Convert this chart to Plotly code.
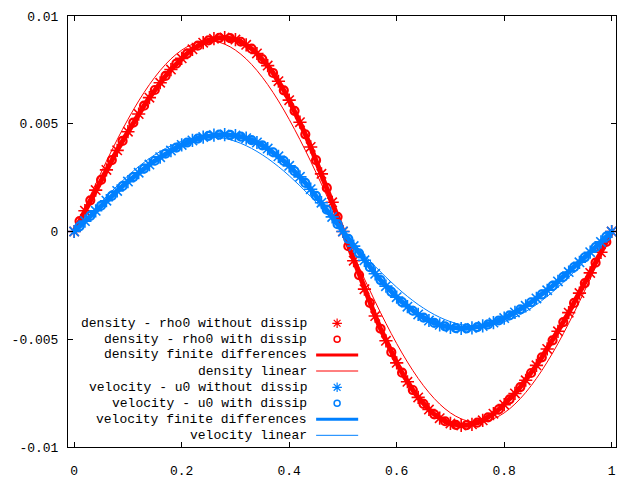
import numpy as np
import plotly.graph_objects as go

SCALE = 1e-3  # values below are given in units of 1e-3

# sampling grids
x_even = [0.00, 0.02, 0.04, 0.06, 0.08, 0.10, 0.12, 0.14, 0.16, 0.18,
          0.20, 0.22, 0.24, 0.26, 0.28, 0.30, 0.32, 0.34, 0.36, 0.38,
          0.40, 0.42, 0.44, 0.46, 0.48, 0.50, 0.52, 0.54, 0.56, 0.58,
          0.60, 0.62, 0.64, 0.66, 0.68, 0.70, 0.72, 0.74, 0.76, 0.78,
          0.80, 0.82, 0.84, 0.86, 0.88, 0.90, 0.92, 0.94, 0.96, 0.98, 1.00]
x_odd = [0.01, 0.03, 0.05, 0.07, 0.09, 0.11, 0.13, 0.15, 0.17, 0.19,
         0.21, 0.23, 0.25, 0.27, 0.29, 0.31, 0.33, 0.35, 0.37, 0.39,
         0.41, 0.43, 0.45, 0.47, 0.49, 0.51, 0.53, 0.55, 0.57, 0.59,
         0.61, 0.63, 0.65, 0.67, 0.69, 0.71, 0.73, 0.75, 0.77, 0.79,
         0.81, 0.83, 0.85, 0.87, 0.89, 0.91, 0.93, 0.95, 0.97, 0.99]

# density - rho0 (x 1e-3)
rho_without_dissip = [0, 0.966, 1.921, 2.858, 3.765, 4.632, 5.451, 6.212, 6.902, 7.514,
                      8.034, 8.455, 8.762, 8.947, 8.999, 8.907, 8.663, 8.261, 7.698, 6.973,
                      6.094, 5.072, 3.924, 2.675, 1.355, 0,
                      -1.355, -2.675, -3.924, -5.072, -6.094, -6.973, -7.698, -8.261, -8.663, -8.907,
                      -8.999, -8.947, -8.762, -8.455, -8.034, -7.514, -6.902, -6.212, -5.451, -4.632,
                      -3.765, -2.858, -1.921, -0.966, 0]
rho_with_dissip = [0.483, 1.445, 2.392, 3.315, 4.204, 5.049, 5.839, 6.566, 7.219, 7.786,
                   8.258, 8.624, 8.871, 8.990, 8.971, 8.805, 8.483, 8.000, 7.356, 6.553,
                   5.600, 4.512, 3.310, 2.022, 0.680,
                   -0.680, -2.022, -3.310, -4.512, -5.600, -6.553, -7.356, -8.000, -8.483, -8.805,
                   -8.971, -8.990, -8.871, -8.624, -8.258, -7.786, -7.219, -6.566, -5.839, -5.049,
                   -4.204, -3.315, -2.392, -1.445, -0.483]
rho_linear = [0, 1.109, 2.201, 3.258, 4.263, 5.202, 6.058, 6.819, 7.472, 8.008,
              8.417, 8.693, 8.833, 8.833, 8.693, 8.417, 8.008, 7.472, 6.819, 6.058,
              5.202, 4.263, 3.258, 2.201, 1.109, 0,
              -1.109, -2.201, -3.258, -4.263, -5.202, -6.058, -6.819, -7.472, -8.008, -8.417,
              -8.693, -8.833, -8.833, -8.693, -8.417, -8.008, -7.472, -6.819, -6.058, -5.202,
              -4.263, -3.258, -2.201, -1.109, 0]

# velocity - u0 (x 1e-3)
u_without_dissip = [0, 0.483, 0.960, 1.429, 1.882, 2.316, 2.726, 3.106, 3.451, 3.757,
                    4.017, 4.227, 4.381, 4.473, 4.500, 4.454, 4.332, 4.131, 3.849, 3.487,
                    3.047, 2.536, 1.962, 1.337, 0.678, 0,
                    -0.678, -1.337, -1.962, -2.536, -3.047, -3.487, -3.849, -4.131, -4.332, -4.454,
                    -4.500, -4.473, -4.381, -4.227, -4.017, -3.757, -3.451, -3.106, -2.726, -2.316,
                    -1.882, -1.429, -0.960, -0.483, 0]
u_with_dissip = [0.242, 0.723, 1.196, 1.657, 2.102, 2.525, 2.920, 3.283, 3.609, 3.893,
                 4.129, 4.312, 4.436, 4.495, 4.486, 4.402, 4.241, 4.000, 3.678, 3.276,
                 2.800, 2.256, 1.655, 1.011, 0.340,
                 -0.340, -1.011, -1.655, -2.256, -2.800, -3.276, -3.678, -4.000, -4.241, -4.402,
                 -4.486, -4.495, -4.436, -4.312, -4.129, -3.893, -3.609, -3.283, -2.920, -2.525,
                 -2.102, -1.657, -1.196, -0.723, -0.242]
u_linear = [0, 0.551, 1.094, 1.620, 2.120, 2.586, 3.012, 3.390, 3.715, 3.981,
            4.185, 4.322, 4.391, 4.391, 4.322, 4.185, 3.981, 3.715, 3.390, 3.012,
            2.586, 2.120, 1.620, 1.094, 0.551, 0,
            -0.551, -1.094, -1.620, -2.120, -2.586, -3.012, -3.390, -3.715, -3.981, -4.185,
            -4.322, -4.391, -4.391, -4.322, -4.185, -3.981, -3.715, -3.390, -3.012, -2.586,
            -2.120, -1.620, -1.094, -0.551, 0]

labels = ["density - rho0 without dissip", "density - rho0 with dissip",
          "density finite differences", "density linear",
          "velocity - u0 without dissip", "velocity - u0 with dissip",
          "velocity finite differences", "velocity linear"]

x_ticks = [0, 0.2, 0.4, 0.6, 0.8, 1]
x_tick_labels = ["0", "0.2", "0.4", "0.6", "0.8", "1"]
y_ticks = [0.01, 0.005, 0, -0.005, -0.01]
y_tick_labels = ["0.01", "0.005", "0", "-0.005", "-0.01"]

RED = "#ff0000"
BLUE = "#0080ff"
FONT = "Liberation Mono"


def scaled(v):
    return np.asarray(v, dtype=float) * SCALE


def merged(xa, ya, xb, yb):
    x = np.concatenate([xa, xb])
    y = np.concatenate([scaled(ya), scaled(yb)])
    order = np.argsort(x)
    return x[order], y[order]


fig = go.Figure()

for color, without, with_, lin in [(RED, rho_without_dissip, rho_with_dissip, rho_linear),
                                   (BLUE, u_without_dissip, u_with_dissip, u_linear)]:
    fig.add_trace(go.Scatter(x=x_even, y=scaled(without), mode="markers",
                             marker=dict(symbol="asterisk-open", size=11, color=color,
                                         line=dict(color=color, width=1.6)),
                             showlegend=False))
    fig.add_trace(go.Scatter(x=x_odd, y=scaled(with_), mode="markers",
                             marker=dict(symbol="circle-open", size=8, color=color,
                                         line=dict(color=color, width=2.2)),
                             showlegend=False))
    fx, fy = merged(x_even, without, x_odd, with_)
    fig.add_trace(go.Scatter(x=fx, y=fy, mode="lines", line=dict(color=color, width=5),
                             showlegend=False))
    fig.add_trace(go.Scatter(x=x_even, y=scaled(lin), mode="lines", line_shape="spline",
                             line=dict(color=color, width=1), showlegend=False))

# custom gnuplot-style key (text right-aligned, sample on the right)
row_y = [0.287, 0.2499, 0.2135, 0.1763, 0.1385, 0.1014, 0.0643, 0.0271]
key_text_x = 0.4395
key_line_x0, key_line_x1, key_mark_x = 0.4528, 0.5295, 0.4911
kinds = ["star", "circle", "thick", "thin", "star", "circle", "thick", "thin"]
colors = [RED] * 4 + [BLUE] * 4
for lab, yy, kind, col in zip(labels, row_y, kinds, colors):
    fig.add_annotation(text=lab, x=key_text_x, y=yy, xref="paper", yref="paper",
                       xanchor="right", yanchor="middle", showarrow=False,
                       font=dict(family=FONT, size=13, color="black"))
    if kind in ("thick", "thin"):
        fig.add_shape(type="line", xref="paper", yref="paper",
                      x0=key_line_x0, x1=key_line_x1, y0=yy, y1=yy,
                      line=dict(color=col, width=3 if kind == "thick" else 1))
    else:
        fig.add_trace(go.Scatter(x=[key_mark_x], y=[yy], xaxis="x2", yaxis="y2",
                                 mode="markers", showlegend=False, hoverinfo="skip",
                                 marker=dict(symbol="asterisk-open" if kind == "star" else "circle-open",
                                             size=8 if kind == "star" else 6, color=col,
                                             line=dict(color=col, width=1.2 if kind == "star" else 1.5))))

axis_common = dict(ticks="inside", ticklen=5, tickcolor="black", mirror="allticks",
                   showline=True, linecolor="black", linewidth=1, showgrid=False,
                   zeroline=False, automargin=False,
                   tickfont=dict(family=FONT, size=13, color="black"))

fig.update_layout(
    width=640, height=480,
    margin=dict(l=68, r=24, t=16, b=33),
    plot_bgcolor="white", paper_bgcolor="white",
    showlegend=False,
    xaxis=dict(range=[-0.0115, 1.008], tickvals=x_ticks, ticktext=x_tick_labels,
               ticklabelstandoff=11, **axis_common),
    yaxis=dict(range=[-0.01, 0.01], tickvals=y_ticks, ticktext=y_tick_labels,
               ticklabelstandoff=6, **axis_common),
    xaxis2=dict(overlaying="x", range=[0, 1], visible=False, anchor="y2"),
    yaxis2=dict(overlaying="y", range=[0, 1], visible=False, anchor="x2"),
)

fig.write_html("out.html", config={"displayModeBar": False},
               post_script="document.body.style.margin='0';")
